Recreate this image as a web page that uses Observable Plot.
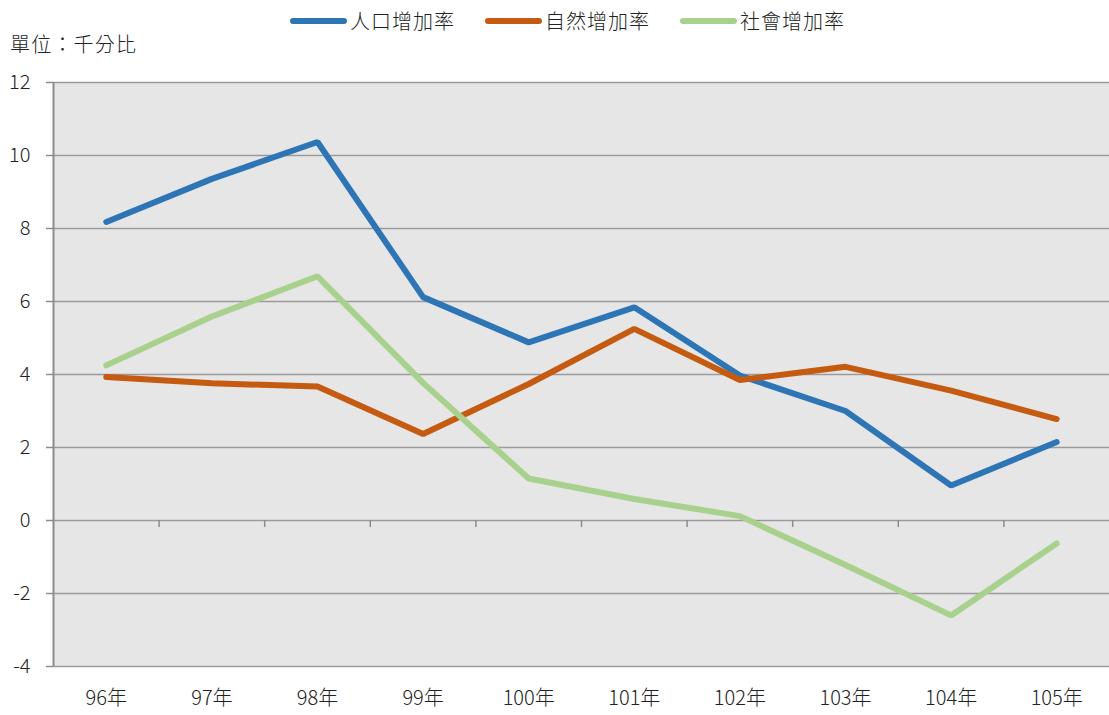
<!DOCTYPE html>
<html>
<head>
<meta charset="utf-8">
<script src="https://cdn.jsdelivr.net/npm/d3@7"></script>
<script src="https://cdn.jsdelivr.net/npm/@observablehq/plot@0.6"></script>
<style>
  html, body { margin: 0; padding: 0; background: #fff; }
  #wrap { position: relative; width: 1109px; height: 715px; font-family: "Noto Sans CJK TC", "Noto Sans", sans-serif; color: #222; font-weight: 300; }
  #legend { position: absolute; left: 290px; top: 6px; display: flex; align-items: center; gap: 30px; font-size: 20px; line-height: 30px; letter-spacing: 1px; }
  .item { display: flex; align-items: center; }
  .swatch { width: 57px; height: 6px; border-radius: 3px; margin-right: 3px; }
  #unit { position: absolute; left: 10px; top: 29px; font-size: 20px; line-height: 30px; letter-spacing: 1.2px; }
  #chart { position: absolute; left: 0; top: 0; }
</style>
</head>
<body>
<div id="wrap">
  <div id="chart"></div>
  <div id="legend"></div>
  <div id="unit">單位：千分比</div>
</div>
<script>
const years = ["96年", "97年", "98年", "99年", "100年", "101年", "102年", "103年", "104年", "105年"];
const populationRate = [8.18, 9.36, 10.37, 6.12, 4.88, 5.84, 3.97, 3.00, 0.96, 2.15];
const naturalRate    = [3.93, 3.76, 3.67, 2.37, 3.74, 5.25, 3.85, 4.21, 3.56, 2.78];
const socialRate     = [4.25, 5.59, 6.69, 3.77, 1.15, 0.59, 0.12, -1.22, -2.60, -0.63];
const seriesNames = ["人口增加率", "自然增加率", "社會增加率"];
const seriesColors = ["#2e75b6", "#c55a11", "#a9d18e"];
const yTicks = [-4, -2, 0, 2, 4, 6, 8, 10, 12];

const seriesValues = [populationRate, naturalRate, socialRate];
const rows = seriesValues.map((vals, s) => vals.map((v, i) => ({x: i + 0.5, v, s})));
const centers = years.map((_, i) => i + 0.5);
const bounds = years.slice(1).map((_, i) => i + 1);

const chart = Plot.plot({
  width: 1109,
  height: 715,
  marginLeft: 53,
  marginRight: 0,
  marginTop: 82,
  marginBottom: 49,
  style: {fontFamily: '"Noto Sans CJK TC", "Noto Sans", sans-serif', fontSize: "20px", fontWeight: 300, color: "#222", background: "transparent"},
  x: {domain: [0, 10]},
  y: {domain: [-4, 12]},
  marks: [
    Plot.frame({fill: "#e6e6e6", stroke: null}),
    Plot.gridY({ticks: yTicks, stroke: "#9a9a9a", strokeOpacity: 1, strokeWidth: 1.5}),
    Plot.ruleX([0], {stroke: "#8c8c8c", strokeWidth: 2}),
    Plot.ruleX(bounds, {x: d => d, y1: 0, y2: -0.19, stroke: "#8c8c8c", strokeWidth: 1.5}),
    Plot.axisY({ticks: yTicks, tickSize: 7, tickPadding: 16, tickFormat: d => String(d), stroke: "#8c8c8c", strokeWidth: 1.5, fill: "#222", fontSize: 20, label: null}),
    Plot.axisX({ticks: centers, tickSize: 0, tickPadding: 24, tickFormat: d => years[Math.floor(d)], fill: "#222", fontSize: 20, label: null}),
    ...rows.map((r, s) => Plot.lineY(r, {x: "x", y: "v", stroke: seriesColors[s], strokeWidth: 6, strokeLinecap: "round", strokeLinejoin: "miter"}))
  ]
});
document.getElementById("chart").appendChild(chart);

const legend = document.getElementById("legend");
seriesNames.forEach((name, i) => {
  const item = document.createElement("div");
  item.className = "item";
  const sw = document.createElement("div");
  sw.className = "swatch";
  sw.style.background = seriesColors[i];
  const t = document.createElement("span");
  t.textContent = name;
  item.appendChild(sw);
  item.appendChild(t);
  legend.appendChild(item);
});
</script>
</body>
</html>
